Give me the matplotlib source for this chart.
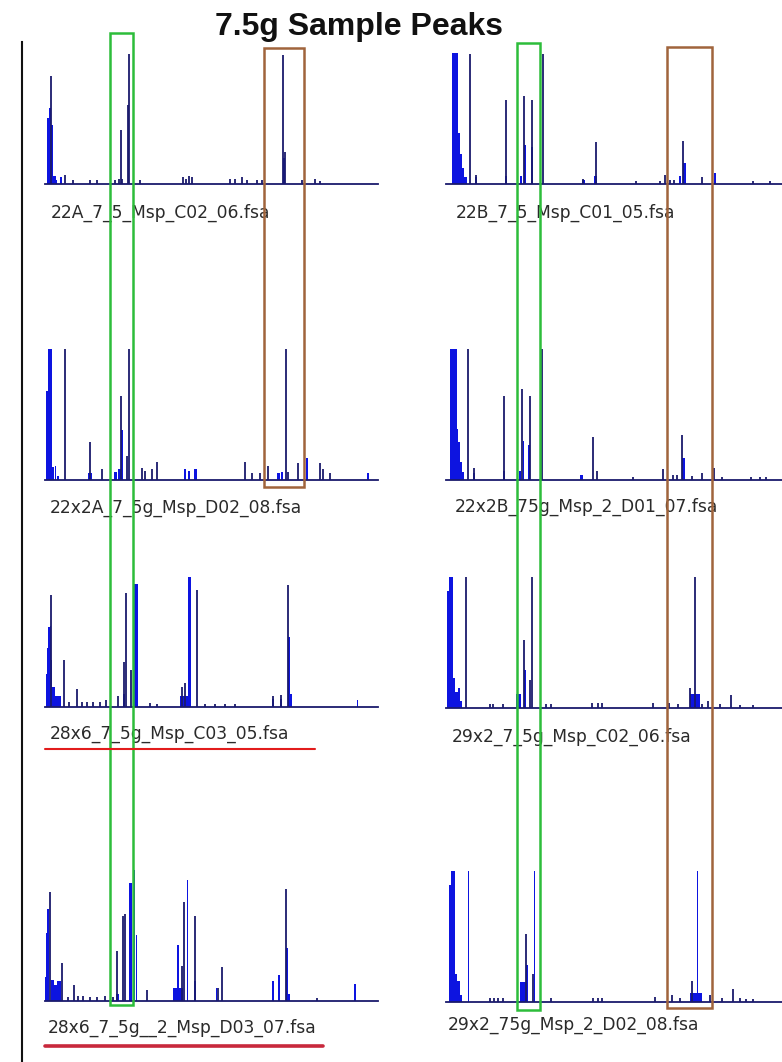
import matplotlib
matplotlib.use('Agg')
import matplotlib.pyplot as plt
from matplotlib.patches import Rectangle

W, H = 782, 1062
navy = '#1a1a6c'
blue = '#0d14e0'

# peak data per trace: spikes = (scan pos, rel. height), fills = (scan pos, rel. height, width)
# scan pos is measured from the start of each trace baseline

a22A_spikes = [(5.7, 0.82), (20, 0.07), (28, 0.03), (45, 0.03), (52, 0.03), (70, 0.03),
               (74, 0.04), (75.7, 0.41), (77, 0.04), (83.3, 0.6), (84, 0.99), (95, 0.03),
               (138, 0.05), (141, 0.04), (144, 0.06), (147, 0.05), (185, 0.04), (190, 0.04),
               (197, 0.05), (202, 0.03), (212, 0.03), (217, 0.03), (238, 0.98), (240, 0.24),
               (257, 0.03), (270, 0.04), (275, 0.02)]
a22A_fills = [(2.5, 0.5, 2), (4.5, 0.58, 2), (6.5, 0.45, 2), (9, 0.06, 3), (11, 0.03, 2),
              (16, 0.05, 2), (238.5, 0.2, 2)]

b22B_spikes = [(24, 0.99), (30, 0.07), (59.7, 0.64), (78, 0.67), (86, 0.64), (97, 0.99),
               (137, 0.04), (149.7, 0.32), (190, 0.02), (214, 0.02), (219, 0.07), (224, 0.03),
               (228, 0.03), (237, 0.33), (256, 0.05), (307, 0.02), (324, 0.02)]
b22B_fills = [(9, 1.0, 6.6), (13.2, 0.39, 1.8), (15, 0.23, 1.8), (17, 0.12, 2.2), (19.5, 0.05, 3),
              (30, 0.05, 2), (59.7, 0.06, 2), (78.5, 0.30, 2), (75, 0.06, 2), (85.5, 0.28, 2),
              (137, 0.03, 3), (149, 0.06, 3), (238.5, 0.16, 3), (234, 0.06, 2), (269, 0.08, 2)]

a22x2A_spikes = [(20, 1.0), (45, 0.29), (56.7, 0.08), (75.7, 0.64), (82, 0.18), (84.3, 1.0),
                 (96.7, 0.09), (100, 0.07), (106.7, 0.08), (111.7, 0.14), (200, 0.14),
                 (206.7, 0.05), (215, 0.05), (223, 0.11), (241, 1.0), (243, 0.06),
                 (252.7, 0.13), (275, 0.13), (278, 0.08), (285, 0.05)]
a22x2A_fills = [(1.7, 0.68, 2), (4.7, 1.0, 4), (8, 0.1, 2), (10, 0.11, 1), (13, 0.03, 2),
                (45, 0.05, 4), (70, 0.06, 3), (74, 0.08, 3), (77, 0.38, 1.5), (140, 0.08, 2),
                (144, 0.07, 2), (150, 0.08, 3), (233, 0.05, 3), (237, 0.06, 2),
                (261.7, 0.17, 2), (323, 0.05, 2)]

b22x2B_spikes = [(22.3, 1.0), (28.3, 0.09), (58, 0.64), (76, 0.69), (84, 0.64), (95.7, 1.0),
                 (147.3, 0.33), (150.7, 0.07), (187, 0.02), (217, 0.08), (227, 0.04),
                 (231, 0.04), (235.7, 0.34), (245.7, 0.03), (255.7, 0.05), (268, 0.09),
                 (275.7, 0.02), (305, 0.02), (314, 0.02), (320, 0.02)]
b22x2B_fills = [(7.5, 1.0, 6.6), (11.5, 0.39, 1.5), (13, 0.29, 1.5), (14.7, 0.14, 2),
                (17, 0.06, 2), (28.3, 0.05, 2), (58, 0.07, 2), (77.3, 0.30, 1.5), (74, 0.07, 2),
                (83, 0.27, 1.5), (135.7, 0.04, 3), (237.7, 0.17, 2.5)]

a28x6_spikes = [(6, 0.85), (19.3, 0.36), (24, 0.04), (31.7, 0.14), (37, 0.04), (42, 0.04),
                (48, 0.04), (55, 0.04), (61, 0.05), (73.3, 0.08), (79, 0.34), (80.7, 0.87),
                (85.7, 0.28), (105, 0.03), (112, 0.02), (136.7, 0.15), (140, 0.18),
                (152.3, 0.89), (160, 0.02), (170, 0.02), (180, 0.02), (190, 0.02),
                (228.3, 0.08), (236, 0.09), (243.3, 0.93)]
a28x6_fills = [(1.2, 0.25, 1.2), (2.5, 0.45, 1.4), (3.8, 0.61, 1.4), (5.2, 0.62, 1.4),
               (6.6, 0.36, 1.4), (8.5, 0.15, 2.4), (13, 0.08, 6.6), (78.5, 0.1, 2),
               (91.3, 0.94, 4), (139, 0.08, 8), (144.5, 0.99, 2.4), (228.3, 0.06, 2),
               (236, 0.06, 2), (244, 0.53, 2.5), (245.5, 0.1, 3), (312.3, 0.05, 1.5)]

b29x2_spikes = [(20, 1.0), (44, 0.03), (47, 0.03), (57, 0.03), (78, 0.52), (84, 0.21),
                (86.3, 1.0), (100, 0.03), (105, 0.03), (145.7, 0.04), (152, 0.04),
                (155.7, 0.04), (207.3, 0.04), (223, 0.04), (232, 0.03), (244, 0.15),
                (249, 1.0), (255.7, 0.03), (262.3, 0.05), (274, 0.03), (285, 0.1),
                (294, 0.02), (307, 0.02)]
b29x2_fills = [(1.8, 0.89, 2.4), (5.2, 1.0, 4.4), (8.3, 0.23, 2), (10.5, 0.12, 2.4),
               (12.7, 0.15, 2), (14.7, 0.05, 2), (72.5, 0.11, 5), (79, 0.29, 1.5),
               (249, 0.11, 10)]

a28x6b_spikes = [(4.7, 0.83), (17.3, 0.29), (23, 0.03), (29, 0.12), (33, 0.04), (38, 0.04),
                 (45, 0.03), (52, 0.03), (60, 0.04), (68, 0.03), (72.3, 0.38), (78.3, 0.65),
                 (79.7, 0.66), (101.7, 0.08), (136.7, 0.27), (138.7, 0.75), (150.3, 0.65),
                 (173.3, 0.1), (176.7, 0.26), (241, 0.85), (271.7, 0.02)]
a28x6b_fills = [(0.2, 0.18, 1.2), (1.5, 0.52, 1.4), (3, 0.70, 1.6), (7, 0.16, 3), (10, 0.12, 3),
                (13.5, 0.15, 4), (72, 0.05, 3), (85.2, 0.9, 3), (89.2, 1.0, 2), (91.5, 0.5, 1.2),
                (133.3, 0.1, 10), (133.3, 0.43, 2.2), (142.7, 0.92, 1.5), (150, 0.15, 2),
                (171.7, 0.1, 1.5), (227.5, 0.15, 2), (234, 0.2, 2), (241.5, 0.4, 2),
                (243, 0.05, 3), (310, 0.13, 1.5)]

b29x2b_spikes = [(44, 0.03), (48, 0.03), (52, 0.03), (57, 0.03), (79.7, 0.52), (86.7, 0.21),
                 (105, 0.03), (147, 0.03), (152, 0.03), (156, 0.03), (209, 0.04),
                 (225.7, 0.05), (234, 0.03), (245.7, 0.16), (264, 0.05), (275.7, 0.03),
                 (286.7, 0.1), (294, 0.03), (300, 0.02), (307, 0.02)]
b29x2b_fills = [(3.8, 0.89, 1.6), (6.8, 1.0, 4.4), (9.8, 0.21, 1.6), (12.5, 0.16, 2.4),
                (15, 0.05, 2), (22.3, 1.0, 1.6), (77, 0.15, 6), (81, 0.28, 1.5),
                (88.3, 1.0, 1.6), (250, 0.07, 12), (251.3, 1.0, 1.6)]

left_labels = ['22A_7_5_Msp_C02_06.fsa', '22x2A_7_5g_Msp_D02_08.fsa',
               '28x6_7_5g_Msp_C03_05.fsa', '28x6_7_5g__2_Msp_D03_07.fsa']
right_labels = ['22B_7_5_Msp_C01_05.fsa', '22x2B_75g_Msp_2_D01_07.fsa',
                '29x2_7_5g_Msp_C02_06.fsa', '29x2_75g_Msp_2_D02_08.fsa']

left_traces = [(a22A_spikes, a22A_fills), (a22x2A_spikes, a22x2A_fills),
               (a28x6_spikes, a28x6_fills), (a28x6b_spikes, a28x6b_fills)]
right_traces = [(b22B_spikes, b22B_fills), (b22x2B_spikes, b22x2B_fills),
                (b29x2_spikes, b29x2_fills), (b29x2b_spikes, b29x2b_fills)]

# layout in pixels
left_base = [184, 480, 707, 1001]
right_base = [184, 480, 708, 1002]
left_lab = [(51, 213), (50, 508), (50, 734), (48, 1028)]
right_lab = [(456, 213), (455, 507), (452, 737), (448, 1025)]
trace_h = 132

fig = plt.figure(figsize=(W / 100, H / 100), dpi=100)


def draw_trace(x0, ybase, length, spikes, fills):
    ax = fig.add_axes([x0 / W, 1 - ybase / H, length / W, trace_h / H])
    ax.set_xlim(0, length)
    ax.set_ylim(0, 1.005)
    x, h, w = zip(*fills)
    ax.bar(x, h, width=w, color=blue, linewidth=0)
    x, h = zip(*spikes)
    ax.vlines(x, 0, h, color=navy, lw=1.3)
    ax.axhline(0, color=navy, lw=1.3, clip_on=False)
    ax.axis('off')


for (sp, fl), yb in zip(left_traces, left_base):
    draw_trace(45, yb, 333, sp, fl)
for (sp, fl), yb in zip(right_traces, right_base):
    draw_trace(446, yb, 340, sp, fl)

for lab, (x, y) in zip(left_labels + right_labels, left_lab + right_lab):
    fig.text(x / W, 1 - y / H, lab, fontsize=12.3, family='DejaVu Sans',
             color='#2a2a2a', va='center', ha='left')

fig.text(359 / W, 1 - 34.5 / H, '7.5g Sample Peaks', fontsize=23, fontweight='bold',
         family='Liberation Sans', color='#111111', ha='center', va='baseline')

# overlay with the hand-drawn highlight boxes
ov = fig.add_axes([0, 0, 1, 1], zorder=10)
ov.set_xlim(0, W)
ov.set_ylim(H, 0)
ov.axis('off')
ov.patch.set_alpha(0)

ov.plot([22, 22], [42, H], color='#111111', lw=1.5)
green = '#2dbd3a'
brown = '#a0643c'
ov.add_patch(Rectangle((110, 33), 23, 972, fill=False, ec=green, lw=1.8))
ov.add_patch(Rectangle((517, 43), 22.5, 967, fill=False, ec=green, lw=1.8))
ov.add_patch(Rectangle((264, 48), 40, 439, fill=False, ec=brown, lw=1.8))
ov.add_patch(Rectangle((667, 47), 45, 961, fill=False, ec=brown, lw=1.8))
ov.plot([45, 315], [749, 749], color='#e21c1c', lw=1.5, solid_capstyle='round')
ov.plot([45, 323], [1046, 1046], color='#c8283c', lw=2.6, solid_capstyle='round')

fig.savefig('out.png', dpi=100)
